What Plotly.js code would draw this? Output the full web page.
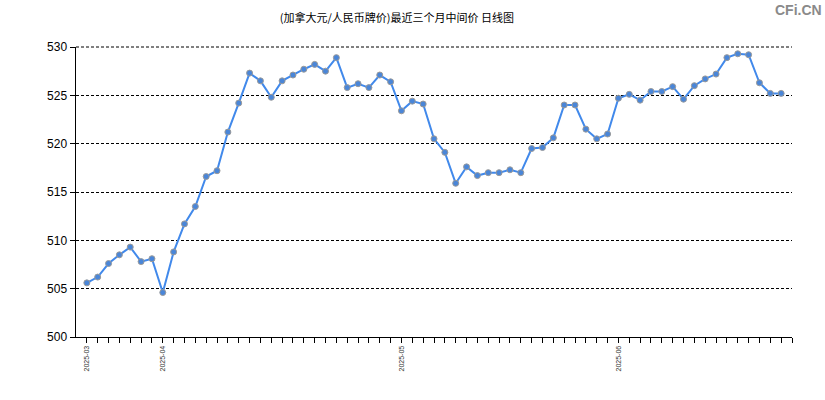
<!DOCTYPE html>
<html><head><meta charset="utf-8">
<script src="https://cdn.plot.ly/plotly-3.0.1.min.js"></script>
<style>html,body{margin:0;padding:0;background:#fff}#c{width:825px;height:400px}</style>
</head><body><div id="c"></div>
<script>
const values = [505.6,506.2,507.6,508.5,509.3,507.8,508.1,504.6,508.8,511.7,513.5,516.6,517.2,521.2,524.2,527.3,526.5,524.8,526.5,527.1,527.7,528.2,527.5,528.9,525.8,526.2,525.8,527.1,526.4,523.4,524.4,524.1,520.5,519.1,515.9,517.6,516.7,517.0,517.0,517.3,517.0,519.5,519.6,520.6,524.0,524.0,521.5,520.5,521.0,524.7,525.1,524.5,525.4,525.4,525.9,524.6,526.0,526.7,527.2,528.9,529.3,529.2,526.3,525.2,525.2];
const monthLabels = {0:'2025-03', 7:'2025-04', 29:'2025-05', 49:'2025-06'};
const titleText = '(加拿大元/人民币牌价)最近三个月中间价 日线图';
const yTicks = [500,505,510,515,520,525,530];

const xs = values.map((v,i)=>i);
const tickvals = [];
const ticktext = [];
for (let i=0;i<=values.length;i++){ tickvals.push(i); ticktext.push(monthLabels[i]||''); }

const trace = {
  x: xs, y: values, type:'scatter', mode:'lines+markers',
  line:{color:'#4189eb', width:2},
  marker:{color:'#4a86d8', size:6, line:{color:'#9a9a9a', width:1}},
  hoverinfo:'skip', cliponaxis:false
};
const layout = {
  width:825, height:400,
  margin:{l:76, r:33, t:47, b:63},
  paper_bgcolor:'#fff', plot_bgcolor:'#fff',
  showlegend:false,
  title:{text:titleText, x:0.481, xanchor:'center', y:0.955, yanchor:'middle',
    font:{family:'Noto Sans CJK SC, sans-serif', size:11, color:'#000'}},
  xaxis:{range:[-1, values.length], tickvals:tickvals, ticktext:ticktext,
    tickangle:-90, ticks:'outside', ticklen:5, tickcolor:'#000', tickwidth:1,
    showgrid:false, zeroline:false, showline:true, linecolor:'#000', linewidth:1,
    tickfont:{family:'Liberation Sans, Arial', size:7, color:'#333'}, fixedrange:true},
  yaxis:{range:[500,530], tickvals:yTicks, ticks:'outside', ticklen:5, tickcolor:'#000',
    showgrid:true, gridcolor:'#000', griddash:'3px,2px', gridwidth:1,
    zeroline:false, showline:true, linecolor:'#000', linewidth:1.5,
    tickfont:{family:'Liberation Sans, Arial', size:12, color:'#000'}, fixedrange:true},
  shapes:[{type:'line', xref:'paper', yref:'paper', x0:0, x1:1, y0:1, y1:1, layer:'below',
    line:{color:'#000', width:1, dash:'3px,2px'}}],
  annotations:[{text:'<b>CFi.CN</b>', xref:'paper', yref:'paper', x:1.044, y:1.128,
    xanchor:'right', yanchor:'middle', showarrow:false,
    font:{family:'Liberation Sans Narrow, Liberation Sans, Arial', size:14, color:'#8a8a8a'}}]
};
Plotly.newPlot('c',[trace],layout,{staticPlot:true});
</script></body></html>
